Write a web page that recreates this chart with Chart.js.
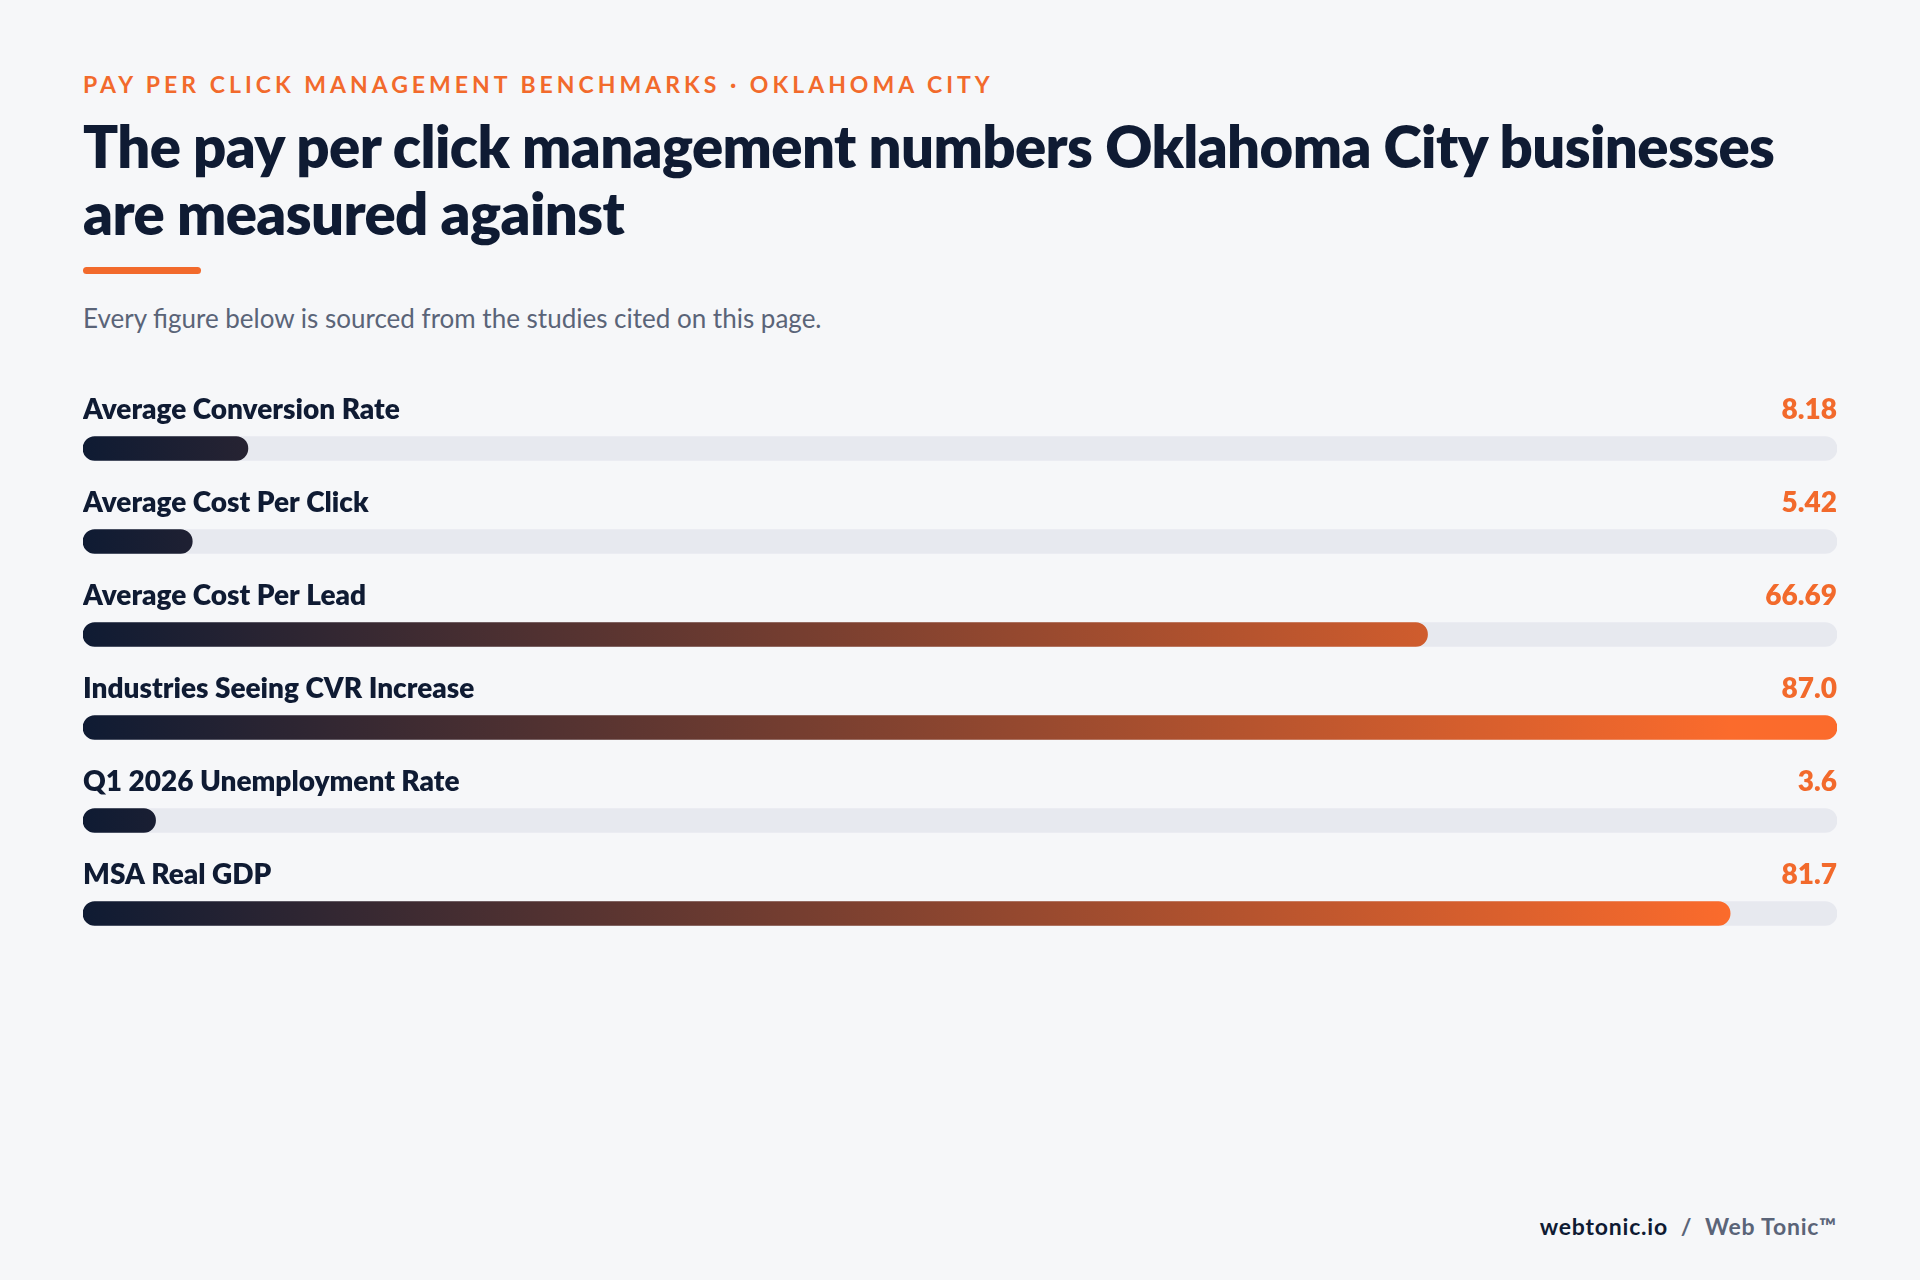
<!DOCTYPE html>
<html><head><meta charset="utf-8">
<script src="https://cdn.jsdelivr.net/npm/chart.js@4"></script>
<style>
html,body{margin:0;padding:0;background:#f6f7f9;width:1920px;height:1280px;overflow:hidden;font-family:Lato,"Noto Sans",sans-serif}
.kicker{position:absolute;left:83px;top:70px;font-size:23px;font-weight:700;letter-spacing:4px;color:#f26a2c}
.title{position:absolute;left:83px;top:112px;width:1770px;font-size:58px;font-weight:800;line-height:67px;color:#0f1b33;letter-spacing:-0.6px}
.rule{position:absolute;left:83px;top:267px;width:118px;height:7px;border-radius:4px;background:#f26a2c}
.sub{position:absolute;left:83px;top:302px;font-size:26px;color:#5a6478}
.foot{position:absolute;right:83px;top:1212px;font-size:23px;font-weight:700;letter-spacing:0.8px;color:#0f1b33}
.foot span{color:#5a6478}
#wrap{position:absolute;left:83px;top:362px;width:1754px;height:598px}
</style></head><body>
<div class="kicker">PAY PER CLICK MANAGEMENT BENCHMARKS · OKLAHOMA CITY</div>
<div class="title">The pay per click management numbers Oklahoma City businesses are measured against</div>
<div class="rule"></div>
<div class="sub">Every figure below is sourced from the studies cited on this page.</div>
<div id="wrap"><canvas id="c"></canvas></div>
<div class="foot">webtonic.io <span>&nbsp;/&nbsp; Web Tonic™</span></div>
<script>
const categories = ["Average Conversion Rate","Average Cost Per Click","Average Cost Per Lead","Industries Seeing CVR Increase","Q1 2026 Unemployment Rate","MSA Real GDP"];
const values = [8.18, 5.42, 66.69, 87.0, 3.6, 81.7];
const valueLabels = ["8.18","5.42","66.69","87.0","3.6","81.7"];
const scaleMax = 87;

const gradPlugin = {
  id:'barGrad',
  beforeDatasetsDraw(chart){
    const meta = chart.getDatasetMeta(0);
    meta.data.forEach(bar=>{
      const x0 = bar.base, x1 = bar.x;
      if(!isFinite(x0) || !isFinite(x1)) return;
      const g = chart.ctx.createLinearGradient(x0,0,x1,0);
      g.addColorStop(0,'#0f1b33'); g.addColorStop(1,'#fb6b2c');
      bar.options.backgroundColor = g;
    });
  }
};

const labelPlugin = {
  id:'rowLabels',
  afterDatasetsDraw(chart){
    const ctx = chart.ctx, meta = chart.getDatasetMeta(0), area = chart.chartArea;
    ctx.save();
    ctx.font = '800 28px Lato, "Noto Sans", sans-serif';
    ctx.textBaseline = 'middle';
    meta.data.forEach((bar,i)=>{
      const y = bar.y - 39;
      ctx.fillStyle = '#0f1b33'; ctx.textAlign='left';
      ctx.fillText(categories[i], area.left, y);
      ctx.fillStyle = '#f26a2c'; ctx.textAlign='right';
      ctx.fillText(valueLabels[i], area.right, y);
    });
    ctx.restore();
  }
};

new Chart(document.getElementById('c'), {
  type:'bar',
  data:{labels:categories, datasets:[
    {data:values, barThickness:24, borderRadius:12, borderSkipped:false, backgroundColor:'#f26a2c'},
    {data:categories.map(()=>scaleMax), barThickness:24, borderRadius:12, borderSkipped:false, backgroundColor:'#e7e9ef'}
  ]},
  options:{
    indexAxis:'y', responsive:true, maintainAspectRatio:false, animation:false,
    layout:{padding:{top:40,left:0,right:0,bottom:0}},
    plugins:{legend:{display:false},tooltip:{enabled:false}},
    datasets:{bar:{grouped:false}},
    scales:{
      x:{display:false,min:0,max:scaleMax},
      y:{display:false}
    }
  },
  plugins:[gradPlugin,labelPlugin]
});
</script>
</body></html>
